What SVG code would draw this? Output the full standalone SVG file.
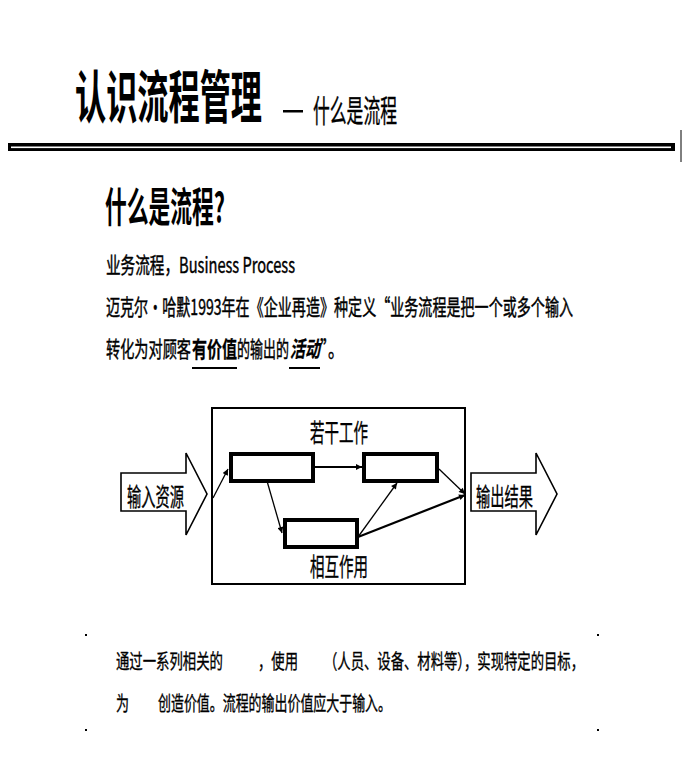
<svg xmlns="http://www.w3.org/2000/svg" width="685" height="761" viewBox="0 0 685 761">
  <style>
    text { font-family: "Noto Sans CJK SC", "Noto Sans", sans-serif; fill: #000; }
    .title { font-size: 57px; font-weight: bold; }
    .sub { font-size: 31px; stroke: #000; stroke-width: 0.4; }
    .h2 { font-size: 41px; font-weight: bold; }
    .body { font-size: 22px; stroke: #000; stroke-width: 0.45; }
    .em { font-size: 22px; font-weight: bold; stroke: #000; stroke-width: 0.3; }
    .lbl { font-size: 25px; stroke: #000; stroke-width: 0.35; }
    .foot { font-size: 20px; stroke: #000; stroke-width: 0.35; }
    .frame { fill: none; stroke: #000; stroke-width: 2; }
    .step { fill: #fff; stroke: #000; stroke-width: 4; }
    .big { fill: #fff; stroke: #000; stroke-width: 1.6; }
    .thin { stroke: #000; stroke-width: 1.3; fill: none; }
    .thick { stroke: #000; stroke-width: 2.2; fill: none; }
  </style>
  <defs>
    <marker id="head" viewBox="0 0 10 10" refX="10" refY="5" markerWidth="7" markerHeight="6" markerUnits="userSpaceOnUse" orient="auto">
      <path d="M0,0 L10,5 L0,10 Z" fill="#000"/>
    </marker>
  </defs>

  <rect width="685" height="761" fill="#fff"/>

  <!-- heading -->
  <g id="heading">
    <text class="title" x="75" y="118" textLength="187" lengthAdjust="spacingAndGlyphs">认识流程管理</text>
    <rect x="283" y="110" width="20" height="2.5" fill="#000"/>
    <text class="sub" x="313" y="122" textLength="84" lengthAdjust="spacingAndGlyphs">什么是流程</text>
  </g>

  <!-- double rule under heading -->
  <g id="rule">
    <rect x="8" y="143" width="667" height="8" fill="#000"/>
    <rect x="11" y="146.5" width="660" height="1.6" fill="#fff"/>
    <line x1="681" y1="130" x2="681" y2="162" stroke="#000" stroke-width="1"/>
  </g>

  <!-- definition text -->
  <g id="definition">
    <text class="h2" x="105" y="222" textLength="120" lengthAdjust="spacingAndGlyphs">什么是流程?</text>
    <text class="body" x="106" y="273" textLength="189" lengthAdjust="spacingAndGlyphs">业务流程，Business Process</text>
    <text class="body" x="106" y="315" textLength="467" lengthAdjust="spacingAndGlyphs">迈克尔·哈默1993年在《企业再造》种定义“业务流程是把一个或多个输入</text>
    <text class="body" x="106" y="357" textLength="85" lengthAdjust="spacingAndGlyphs">转化为对顾客</text>
    <text class="em" x="192" y="357" textLength="45" lengthAdjust="spacingAndGlyphs">有价值</text>
    <text class="body" x="237" y="357" textLength="52" lengthAdjust="spacingAndGlyphs">的输出的</text>
    <text class="em" x="290" y="357" textLength="30" lengthAdjust="spacingAndGlyphs" font-style="italic">活动</text>
    <text class="body" x="320" y="357" textLength="24" lengthAdjust="spacingAndGlyphs">”。</text>
    <rect x="192" y="367" width="45" height="2" fill="#000"/>
    <rect x="289" y="367" width="31" height="2" fill="#000"/>
  </g>

  <!-- process frame -->
  <g id="process">
    <rect class="frame" x="212" y="408" width="253" height="176"/>
    <text class="lbl" x="310" y="442" textLength="58" lengthAdjust="spacingAndGlyphs">若干工作</text>
    <text class="lbl" x="310" y="576" textLength="58" lengthAdjust="spacingAndGlyphs">相互作用</text>
  </g>

  <g id="input">
    <polygon class="big" points="121,473 186,473 186,453 207,494 186,535 186,511 121,511"/>
    <text class="lbl" x="127" y="506" font-size="24" textLength="57" lengthAdjust="spacingAndGlyphs">输入资源</text>
  </g>

  <g id="output">
    <polygon class="big" points="471,473 536,473 536,453 557,494 536,535 536,511 471,511"/>
    <text class="lbl" x="476" y="506" font-size="24" textLength="57" lengthAdjust="spacingAndGlyphs">输出结果</text>
  </g>

  <g id="step1"><rect class="step" x="231" y="454" width="82" height="27"/></g>
  <g id="step2"><rect class="step" x="364" y="454" width="73" height="27"/></g>
  <g id="step3"><rect class="step" x="285" y="520" width="72" height="27"/></g>

  <!-- connectors -->
  <g id="connectors">
    <line class="thin" x1="213" y1="498" x2="228" y2="469" marker-end="url(#head)"/>
    <line class="thick" x1="315" y1="467" x2="362" y2="467" marker-end="url(#head)"/>
    <line class="thin" x1="267" y1="481" x2="282" y2="533" marker-end="url(#head)"/>
    <line class="thin" x1="358" y1="537" x2="397" y2="483" marker-end="url(#head)"/>
    <line class="thin" x1="439" y1="469" x2="465" y2="494" marker-end="url(#head)"/>
    <line class="thick" x1="358" y1="537" x2="465" y2="495" marker-end="url(#head)"/>
  </g>

  <!-- summary text -->
  <g id="summary">
    <rect x="85" y="634" width="2" height="2" fill="#000"/>
    <rect x="597" y="634" width="2" height="2" fill="#000"/>
    <rect x="85" y="729" width="2" height="2" fill="#000"/>
    <rect x="597" y="729" width="2" height="2" fill="#000"/>
    <text class="foot" x="116" y="669" textLength="107" lengthAdjust="spacingAndGlyphs">通过一系列相关的</text>
    <text class="foot" x="258" y="669" textLength="40" lengthAdjust="spacingAndGlyphs">，使用</text>
    <text class="foot" x="324" y="669" textLength="260" lengthAdjust="spacingAndGlyphs">（人员、设备、材料等），实现特定的目标，</text>
    <text class="foot" x="116" y="711" textLength="13" lengthAdjust="spacingAndGlyphs">为</text>
    <text class="foot" x="158" y="711" textLength="233" lengthAdjust="spacingAndGlyphs">创造价值。流程的输出价值应大于输入。</text>
  </g>
</svg>
